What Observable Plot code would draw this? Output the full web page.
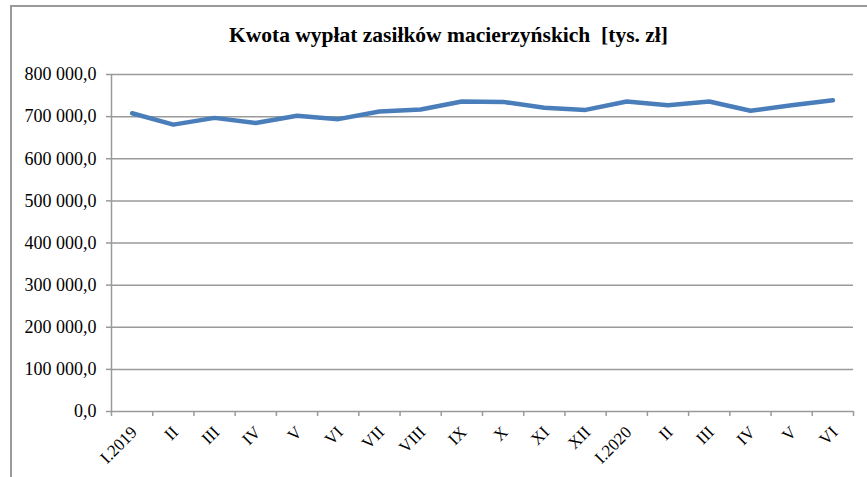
<!DOCTYPE html>
<html>
<head>
<meta charset="utf-8">
<script src="https://cdn.jsdelivr.net/npm/d3@7"></script>
<script src="https://cdn.jsdelivr.net/npm/@observablehq/plot@0.6"></script>
<style>
  html, body { margin: 0; padding: 0; background: #fff; }
  #wrap { position: relative; width: 867px; height: 477px; overflow: hidden; background: #fff; }
  #frame { position: absolute; left: 10px; top: 5px; width: 900px; height: 500px;
           border-top: 2px solid #9a9a9a; border-left: 2px solid #9a9a9a; box-sizing: border-box; }
  #title { position: absolute; left: 0; top: 24px; width: 897px; text-align: center;
           font-family: "Liberation Serif", "Times New Roman", serif; font-weight: bold;
           font-size: 21.5px; line-height: 22px; white-space: pre; color: #000; }
  #chart { position: absolute; left: 0; top: 0; }
</style>
</head>
<body>
<div id="wrap">
  <div id="frame"></div>
  <div id="chart"></div>
  <div id="title">Kwota wypłat zasiłków macierzyńskich  [tys. zł]</div>
</div>
<script>
const categories = ["I.2019","II","III","IV","V","VI","VII","VIII","IX","X","XI","XII","I.2020","II","III","IV","V","VI"];
const values = [708000, 681000, 697000, 685000, 702000, 694000, 712000, 717000, 736000, 735000, 721000, 716000, 736000, 727000, 736000, 714000, 727000, 739000];
const yTicks = [0, 100000, 200000, 300000, 400000, 500000, 600000, 700000, 800000];

const data = categories.map((c, i) => ({i, label: c, value: values[i]}));
const plFormat = d3.formatLocale({decimal: ",", thousands: " ", grouping: [3]}).format(",.1f");
const grey = "#9a9a9a";
const boundaries = d3.range(categories.length + 1).map(k => k - 0.5);

const chart = Plot.plot({
  width: 867,
  height: 477,
  marginLeft: 111,
  marginRight: 14,
  marginTop: 74,
  marginBottom: 66,
  style: {fontFamily: "'Liberation Serif', 'Times New Roman', serif", fontSize: "18px", background: "transparent", color: "#000"},
  x: {type: "linear", domain: [-0.5, categories.length - 0.5], axis: null},
  y: {domain: [0, 800000], axis: null},
  marks: [
    Plot.ruleY(yTicks, {stroke: grey, strokeWidth: 1.5}),
    Plot.ruleX([-0.5], {y1: 0, y2: 800000, stroke: grey, strokeWidth: 1.5}),
    Plot.axisY({ticks: yTicks, tickSize: 5, tickPadding: 10, tickFormat: plFormat, stroke: grey, fill: "#000", strokeWidth: 1.5, fontSize: 18, label: null}),
    Plot.axisX({ticks: boundaries, tickSize: 5, tickFormat: () => "", stroke: grey, strokeWidth: 1.5, label: null}),
    Plot.text(data, {x: "i", y: () => 0, text: "label", rotate: -45, textAnchor: "end",
                     lineAnchor: "middle", dy: 18, dx: 2, fill: "#000", fontSize: 17}),
    Plot.line(data, {x: "i", y: "value", stroke: "#4a7ebb", strokeWidth: 4.5, strokeLinejoin: "round", strokeLinecap: "round"})
  ]
});
document.getElementById("chart").appendChild(chart);
</script>
</body>
</html>
